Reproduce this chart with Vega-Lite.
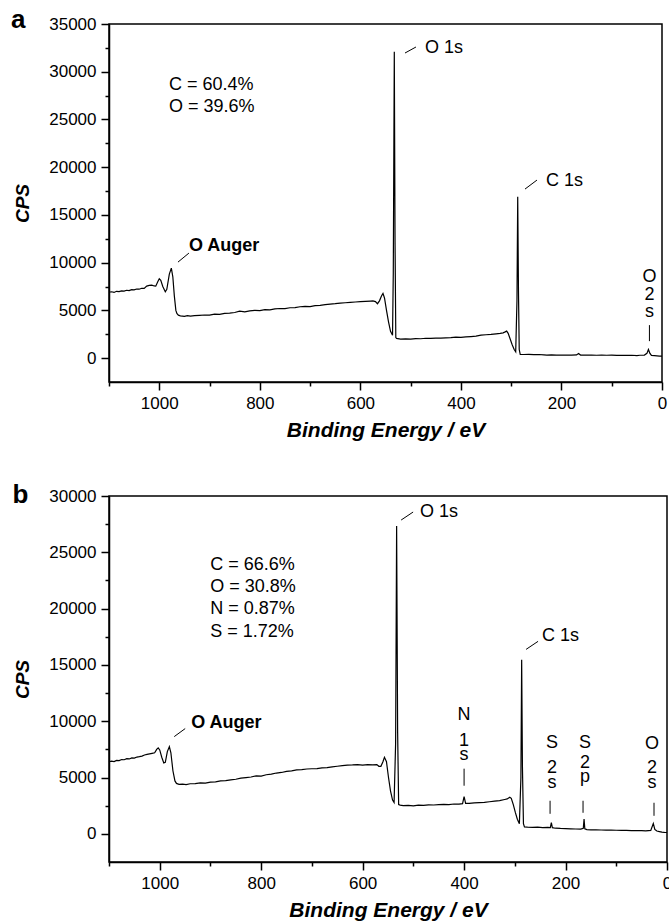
{
  "$schema": "https://vega.github.io/schema/vega-lite/v6.json",
  "padding": {"left": 10, "top": 6, "right": 0, "bottom": 0},
  "config": {
    "font": "Liberation Sans",
    "view": {"stroke": "black", "strokeWidth": 1.5},
    "axis": {
      "grid": false, "domainColor": "black", "domainWidth": 1.5, "tickColor": "black", "tickWidth": 1.5,
      "labelColor": "black", "titleColor": "black", "labelFontSize": 17, "labelFlush": false, "labelOverlap": false,
      "titleFontWeight": "bold", "titleFontStyle": "italic"
    }
  },
  "datasets": {
    "specA": [
      {"E":1100,"v":6900},{"E":1095,"v":6950},{"E":1090,"v":6880},{"E":1085,"v":7000},{"E":1080,"v":6960},{"E":1075,"v":7050},{"E":1070,"v":7020},{"E":1065,"v":7110},{"E":1060,"v":7080},{"E":1055,"v":7180},{"E":1050,"v":7150},{"E":1045,"v":7240},{"E":1040,"v":7220},{"E":1035,"v":7320},{"E":1030,"v":7300},{"E":1025,"v":7550},{"E":1020,"v":7620},{"E":1015,"v":7650},{"E":1010,"v":7560},{"E":1007,"v":7540},{"E":1003,"v":8000},{"E":1000,"v":8320},{"E":997,"v":8150},{"E":993,"v":7500},{"E":988,"v":6950},{"E":985,"v":7200},{"E":980,"v":8800},{"E":976,"v":9430},{"E":973,"v":8500},{"E":970,"v":6500},{"E":967,"v":5000},{"E":965,"v":4680},{"E":962,"v":4500},{"E":958,"v":4430},{"E":950,"v":4380},{"E":944,"v":4460},{"E":938,"v":4400},{"E":930,"v":4450},{"E":920,"v":4480},{"E":910,"v":4520},{"E":900,"v":4500},{"E":890,"v":4600},{"E":880,"v":4580},{"E":870,"v":4680},{"E":860,"v":4720},{"E":850,"v":4780},{"E":840,"v":4920},{"E":830,"v":4850},{"E":820,"v":4950},{"E":810,"v":5000},{"E":800,"v":4980},{"E":790,"v":5080},{"E":780,"v":5050},{"E":770,"v":5150},{"E":760,"v":5200},{"E":750,"v":5180},{"E":740,"v":5280},{"E":730,"v":5300},{"E":720,"v":5380},{"E":710,"v":5420},{"E":700,"v":5400},{"E":690,"v":5500},{"E":680,"v":5520},{"E":670,"v":5600},{"E":660,"v":5660},{"E":650,"v":5700},{"E":640,"v":5760},{"E":630,"v":5800},{"E":620,"v":5850},{"E":610,"v":5880},{"E":600,"v":5920},{"E":590,"v":5950},{"E":580,"v":5980},{"E":575,"v":6000},{"E":570,"v":5920},{"E":566,"v":5700},{"E":562,"v":6000},{"E":558,"v":6500},{"E":555,"v":6780},{"E":552,"v":6300},{"E":548,"v":5000},{"E":544,"v":3800},{"E":540,"v":2800},{"E":536,"v":2400},{"E":534.5,"v":9000},{"E":532.5,"v":32100},{"E":531,"v":12000},{"E":529.5,"v":2150},{"E":528,"v":2060},{"E":520,"v":2000},{"E":510,"v":2020},{"E":500,"v":1990},{"E":490,"v":2050},{"E":480,"v":2030},{"E":470,"v":2080},{"E":460,"v":2060},{"E":450,"v":2100},{"E":440,"v":2090},{"E":430,"v":2130},{"E":420,"v":2150},{"E":410,"v":2200},{"E":400,"v":2180},{"E":390,"v":2230},{"E":380,"v":2260},{"E":370,"v":2300},{"E":360,"v":2410},{"E":350,"v":2450},{"E":340,"v":2480},{"E":330,"v":2550},{"E":322,"v":2600},{"E":316,"v":2650},{"E":312,"v":2750},{"E":309,"v":2830},{"E":306,"v":2600},{"E":302,"v":2000},{"E":298,"v":1400},{"E":294,"v":900},{"E":291,"v":660},{"E":288.5,"v":6000},{"E":287,"v":16900},{"E":285.5,"v":7000},{"E":284,"v":900},{"E":282,"v":390},{"E":275,"v":380},{"E":265,"v":400},{"E":255,"v":360},{"E":245,"v":380},{"E":235,"v":340},{"E":229,"v":320},{"E":220,"v":340},{"E":210,"v":320},{"E":200,"v":330},{"E":190,"v":310},{"E":180,"v":320},{"E":170,"v":340},{"E":166,"v":480},{"E":162,"v":320},{"E":150,"v":310},{"E":140,"v":330},{"E":130,"v":300},{"E":120,"v":320},{"E":110,"v":300},{"E":100,"v":310},{"E":90,"v":290},{"E":80,"v":300},{"E":70,"v":280},{"E":60,"v":300},{"E":50,"v":270},{"E":44,"v":300},{"E":35,"v":320},{"E":30,"v":500},{"E":27,"v":910},{"E":24,"v":500},{"E":21,"v":280},{"E":15,"v":260},{"E":10,"v":240},{"E":5,"v":220},{"E":0,"v":210}
    ],
    "specB": [
      {"E":1100,"v":6400},{"E":1095,"v":6450},{"E":1090,"v":6420},{"E":1085,"v":6520},{"E":1080,"v":6500},{"E":1075,"v":6600},{"E":1070,"v":6580},{"E":1065,"v":6680},{"E":1060,"v":6650},{"E":1055,"v":6750},{"E":1050,"v":6720},{"E":1045,"v":6820},{"E":1040,"v":6850},{"E":1035,"v":6900},{"E":1030,"v":7000},{"E":1025,"v":7050},{"E":1020,"v":7100},{"E":1015,"v":7150},{"E":1010,"v":7200},{"E":1006,"v":7500},{"E":1003,"v":7630},{"E":1000,"v":7450},{"E":996,"v":6800},{"E":992,"v":6300},{"E":989,"v":6350},{"E":985,"v":7300},{"E":981,"v":7745},{"E":978,"v":7200},{"E":974,"v":5600},{"E":970,"v":4700},{"E":967,"v":4480},{"E":962,"v":4400},{"E":955,"v":4420},{"E":948,"v":4380},{"E":940,"v":4450},{"E":930,"v":4460},{"E":920,"v":4520},{"E":910,"v":4500},{"E":900,"v":4600},{"E":890,"v":4620},{"E":880,"v":4700},{"E":870,"v":4720},{"E":860,"v":4800},{"E":850,"v":4850},{"E":840,"v":4950},{"E":830,"v":5000},{"E":820,"v":5050},{"E":810,"v":5150},{"E":800,"v":5120},{"E":790,"v":5250},{"E":780,"v":5300},{"E":770,"v":5400},{"E":760,"v":5450},{"E":750,"v":5550},{"E":740,"v":5600},{"E":730,"v":5680},{"E":720,"v":5700},{"E":710,"v":5760},{"E":700,"v":5780},{"E":690,"v":5800},{"E":680,"v":5850},{"E":670,"v":5880},{"E":660,"v":5950},{"E":650,"v":6000},{"E":640,"v":6050},{"E":630,"v":6100},{"E":620,"v":6120},{"E":610,"v":6150},{"E":600,"v":6100},{"E":590,"v":6150},{"E":580,"v":6120},{"E":572,"v":6150},{"E":568,"v":6000},{"E":564,"v":6000},{"E":560,"v":6400},{"E":557,"v":6800},{"E":553,"v":6400},{"E":549,"v":5000},{"E":545,"v":3800},{"E":541,"v":3000},{"E":538,"v":2790},{"E":535,"v":8000},{"E":533,"v":27330},{"E":531,"v":9000},{"E":529,"v":2600},{"E":526,"v":2550},{"E":520,"v":2500},{"E":510,"v":2520},{"E":500,"v":2480},{"E":490,"v":2550},{"E":480,"v":2520},{"E":470,"v":2580},{"E":460,"v":2560},{"E":450,"v":2600},{"E":440,"v":2620},{"E":430,"v":2600},{"E":420,"v":2650},{"E":410,"v":2640},{"E":403,"v":2680},{"E":400,"v":3300},{"E":397,"v":2700},{"E":390,"v":2700},{"E":380,"v":2750},{"E":370,"v":2780},{"E":360,"v":2800},{"E":350,"v":2850},{"E":340,"v":2900},{"E":330,"v":2950},{"E":320,"v":3050},{"E":315,"v":3100},{"E":310,"v":3250},{"E":307,"v":3150},{"E":303,"v":2600},{"E":299,"v":1900},{"E":295,"v":1300},{"E":291,"v":900},{"E":288,"v":5000},{"E":286.5,"v":15460},{"E":285,"v":6000},{"E":283,"v":900},{"E":281,"v":620},{"E":275,"v":600},{"E":265,"v":580},{"E":255,"v":600},{"E":245,"v":560},{"E":235,"v":570},{"E":230,"v":560},{"E":228,"v":1000},{"E":226,"v":550},{"E":220,"v":500},{"E":210,"v":480},{"E":200,"v":470},{"E":190,"v":450},{"E":180,"v":430},{"E":170,"v":420},{"E":165,"v":500},{"E":163.5,"v":1310},{"E":162,"v":450},{"E":158,"v":380},{"E":150,"v":360},{"E":140,"v":350},{"E":130,"v":340},{"E":120,"v":330},{"E":110,"v":330},{"E":100,"v":320},{"E":90,"v":310},{"E":80,"v":300},{"E":70,"v":290},{"E":60,"v":290},{"E":50,"v":280},{"E":42,"v":270},{"E":32,"v":300},{"E":27,"v":920},{"E":24,"v":400},{"E":20,"v":250},{"E":15,"v":200},{"E":10,"v":150},{"E":5,"v":130},{"E":0,"v":120}
    ],
    "leadA": [
      {"E":511.2,"v":31960,"E2":489.4,"v2":32590},
      {"E":272.5,"v":17709,"E2":248.7,"v2":18652},
      {"E":962.8,"v":10060,"E2":941,"v2":11003},
      {"E":25,"v":3458,"E2":25,"v2":1781}
    ],
    "textA": [
      {"E":980.7,"v":28607,"t":"C = 60.4%"},
      {"E":980.7,"v":26300,"t":"O = 39.6%"},
      {"E":471.5,"v":32485,"t":"O 1s"},
      {"E":230.8,"v":18548,"t":"C 1s"}
    ],
    "boldA": [{"E":941,"v":11736,"t":"O Auger"}],
    "stackA": [
      {"E":25,"v":8488,"t":"O"},{"E":25,"v":6602,"t":"2"},{"E":25,"v":4820,"t":"s"}
    ],
    "labA": [{"E":1295,"v":34549,"t":"a"}],
    "leadB": [
      {"E":524.1,"v":27865,"E2":500.5,"v2":28577},
      {"E":277.8,"v":16380,"E2":254.2,"v2":17093},
      {"E":971.4,"v":8635,"E2":949.8,"v2":9347},
      {"E":400,"v":5787,"E2":400,"v2":4273},
      {"E":230.5,"v":2938,"E2":230.5,"v2":1780},
      {"E":165.5,"v":2938,"E2":165.5,"v2":1870},
      {"E":25.6,"v":2760,"E2":25.6,"v2":1602}
    ],
    "textB": [
      {"E":900.5,"v":23859,"t":"C = 66.6%"},
      {"E":900.5,"v":21900,"t":"O = 30.8%"},
      {"E":900.5,"v":19941,"t":"N = 0.87%"},
      {"E":900.5,"v":17894,"t":"S = 1.72%"},
      {"E":486.7,"v":28577,"t":"O 1s"},
      {"E":246.3,"v":17538,"t":"C 1s"}
    ],
    "boldB": [{"E":938,"v":9882,"t":"O Auger"}],
    "stackB": [
      {"E":400,"v":10594,"t":"N"},{"E":400,"v":8279,"t":"1"},{"E":400,"v":7033,"t":"s"},
      {"E":226.6,"v":8101,"t":"S"},{"E":226.6,"v":5876,"t":"2"},{"E":226.6,"v":4540,"t":"s"},
      {"E":161.6,"v":8101,"t":"S"},{"E":161.6,"v":6321,"t":"2"},{"E":161.6,"v":5074,"t":"p"},
      {"E":29.6,"v":8012,"t":"O"},{"E":29.6,"v":5876,"t":"2"},{"E":29.6,"v":4540,"t":"s"}
    ],
    "labB": [{"E":1290,"v":29378,"t":"b"}]
  },
  "spacing": 40,
  "vconcat": [
    {
      "width": 553, "height": 358,
      "encoding": {
        "x": {"field": "E", "type": "quantitative", "scale": {"domain": [0, 1100], "reverse": true, "nice": false, "zero": false},
          "axis": {"title": "Binding Energy / eV", "titleFontSize": 21, "titlePadding": 8, "values": [1100,1000,900,800,700,600,500,400,300,200,100,0], "format": "d",
            "labelExpr": "datum.value % 200 === 0 ? datum.label : ''", "labelPadding": 5,
            "tickSize": {"condition": {"test": "datum.value % 200 === 0", "value": 8}, "value": 4}}},
        "y": {"field": "v", "type": "quantitative", "scale": {"domain": [-2500, 35000], "nice": false, "zero": false},
          "axis": {"title": "CPS", "titleFontSize": 19, "titlePadding": 16, "values": [0,2500,5000,7500,10000,12500,15000,17500,20000,22500,25000,27500,30000,32500,35000], "format": "d",
            "labelExpr": "datum.value % 5000 === 0 ? datum.label : ''", "labelPadding": 5,
            "tickSize": {"condition": {"test": "datum.value % 5000 === 0", "value": 8}, "value": 4}}}
      },
      "layer": [
        {"data": {"name": "specA"}, "mark": {"type": "line", "color": "black", "strokeWidth": 1.2}},
        {"data": {"name": "leadA"}, "mark": {"type": "rule", "color": "black", "strokeWidth": 1}, "encoding": {"x2": {"field": "E2"}, "y2": {"field": "v2"}}},
        {"data": {"name": "textA"}, "mark": {"type": "text", "align": "left", "baseline": "middle", "fontSize": 18, "color": "black"}, "encoding": {"text": {"field": "t"}}},
        {"data": {"name": "boldA"}, "mark": {"type": "text", "align": "left", "baseline": "middle", "fontSize": 18, "fontWeight": "bold", "color": "black"}, "encoding": {"text": {"field": "t"}}},
        {"data": {"name": "stackA"}, "mark": {"type": "text", "align": "center", "baseline": "middle", "fontSize": 18, "color": "black"}, "encoding": {"text": {"field": "t"}}},
        {"data": {"name": "labA"}, "mark": {"type": "text", "align": "left", "baseline": "alphabetic", "fontSize": 26, "fontWeight": "bold", "color": "black"}, "encoding": {"text": {"field": "t"}}}
      ]
    },
    {
      "width": 558, "height": 366,
      "encoding": {
        "x": {"field": "E", "type": "quantitative", "scale": {"domain": [0, 1100], "reverse": true, "nice": false, "zero": false},
          "axis": {"title": "Binding Energy / eV", "titleFontSize": 21, "titlePadding": 8, "values": [1100,1000,900,800,700,600,500,400,300,200,100,0], "format": "d",
            "labelExpr": "datum.value % 200 === 0 ? datum.label : ''", "labelPadding": 5,
            "tickSize": {"condition": {"test": "datum.value % 200 === 0", "value": 8}, "value": 4}}},
        "y": {"field": "v", "type": "quantitative", "scale": {"domain": [-2500, 30000], "nice": false, "zero": false},
          "axis": {"title": "CPS", "titleFontSize": 19, "titlePadding": 16, "values": [0,2500,5000,7500,10000,12500,15000,17500,20000,22500,25000,27500,30000], "format": "d",
            "labelExpr": "datum.value % 5000 === 0 ? datum.label : ''", "labelPadding": 5,
            "tickSize": {"condition": {"test": "datum.value % 5000 === 0", "value": 8}, "value": 4}}}
      },
      "layer": [
        {"data": {"name": "specB"}, "mark": {"type": "line", "color": "black", "strokeWidth": 1.2}},
        {"data": {"name": "leadB"}, "mark": {"type": "rule", "color": "black", "strokeWidth": 1}, "encoding": {"x2": {"field": "E2"}, "y2": {"field": "v2"}}},
        {"data": {"name": "textB"}, "mark": {"type": "text", "align": "left", "baseline": "middle", "fontSize": 18, "color": "black"}, "encoding": {"text": {"field": "t"}}},
        {"data": {"name": "boldB"}, "mark": {"type": "text", "align": "left", "baseline": "middle", "fontSize": 18, "fontWeight": "bold", "color": "black"}, "encoding": {"text": {"field": "t"}}},
        {"data": {"name": "stackB"}, "mark": {"type": "text", "align": "center", "baseline": "middle", "fontSize": 18, "color": "black"}, "encoding": {"text": {"field": "t"}}},
        {"data": {"name": "labB"}, "mark": {"type": "text", "align": "left", "baseline": "alphabetic", "fontSize": 26, "fontWeight": "bold", "color": "black"}, "encoding": {"text": {"field": "t"}}}
      ]
    }
  ]
}
